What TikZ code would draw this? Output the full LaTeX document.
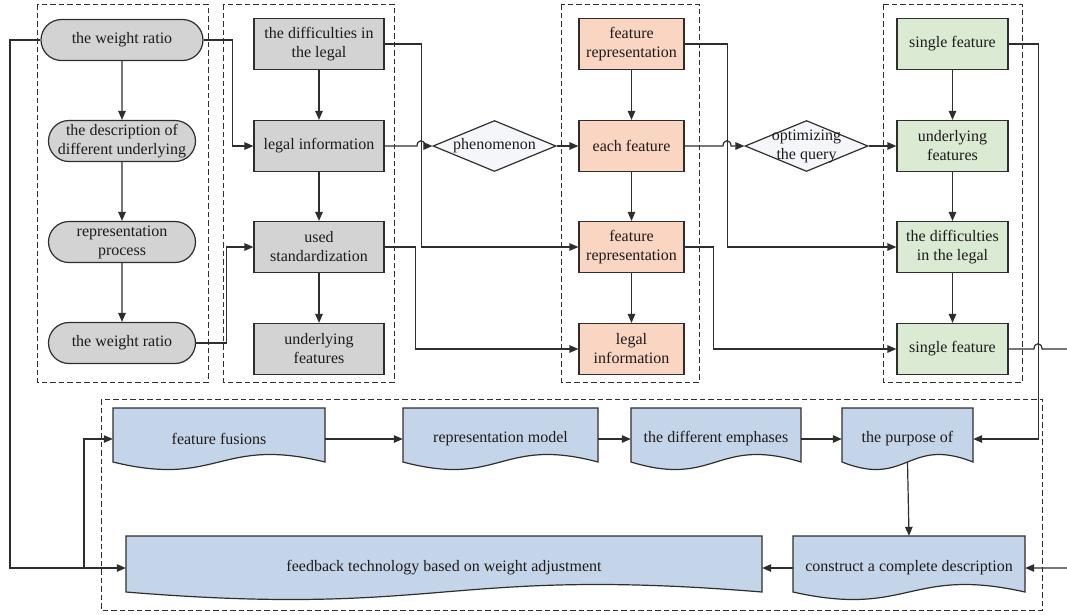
\documentclass[tikz,border=0pt]{standalone}
\usepackage{fontspec}
\setmainfont{Liberation Serif}
\usetikzlibrary{arrows.meta,shapes.misc,shapes.geometric,calc}
\definecolor{lc}{HTML}{2E2E2E}
\definecolor{txt}{HTML}{1E1B1C}
\definecolor{grayf}{HTML}{D3D3D3}
\definecolor{orf}{HTML}{FAD5C2}
\definecolor{grf}{HTML}{DAEAD3}
\definecolor{blf}{HTML}{C5D5E9}
\definecolor{dif}{HTML}{F4F6F9}
\tikzset{
  line/.style={draw=lc, line width=1.2pt},
  arr/.style={line, -{Triangle[length=9pt,width=7.5pt]}},
  dbox/.style={draw=lc, line width=1pt, dash pattern=on 5.5pt off 3pt},
  stad/.style={rounded rectangle, draw=lc, line width=1.2pt, fill=grayf, minimum width=149, minimum height=41, inner sep=1pt, align=center},
  rectbox/.style={rectangle, draw=lc, line width=1.2pt, minimum height=51, inner sep=1pt, align=center},
  gbox/.style={rectbox, fill=grayf, minimum width=130},
  obox/.style={rectbox, fill=orf, minimum width=105},
  grbox/.style={rectbox, fill=grf, minimum width=111},
  dia/.style={diamond, draw=lc, line width=1.2pt, fill=dif, minimum width=123, minimum height=51, inner sep=0pt},
  docstyle/.style={draw=lc, line width=1.2pt, fill=blf},
}
\newcommand{\docnode}[6]{%
  \filldraw[docstyle] (#2,#3) -- (#4,#3) -- (#4,#5) .. controls ({#4-0.5*(#4-#2)},{#5-26}) and ({#2+0.5*(#4-#2)},{#5+26}) .. (#2,#5) -- cycle;
  \node[inner sep=0pt, minimum width={#4-#2}, minimum height={#5+8-#3}, align=center] (#1) at ({(#2+#4)/2},{(#3+#5+8)/2}) {#6};
}
\begin{document}
\begin{tikzpicture}[x=1pt, y=-1pt, font=\fontsize{16}{19}\selectfont\color{txt}]
\useasboundingbox (0,0) rectangle (1067,614);

% dashed group boxes
\draw[dbox] (37,4) rectangle (208,382);
\draw[dbox] (223,4) rectangle (394,382);
\draw[dbox] (561,4) rectangle (699,382);
\draw[dbox] (883,4) rectangle (1022,382);
\draw[dbox] (101,399) rectangle (1042,610);

% column 1
\node[stad, minimum width=164] (n1) at (122,40) {the weight ratio};
\node[stad] (n2) at (122,141) {the description of\\different underlying};
\node[stad] (n3) at (122,242) {representation\\process};
\node[stad] (n4) at (122,343) {the weight ratio};

% column 2
\node[gbox] (g1) at (319,44) {the difficulties in\\the legal};
\node[gbox] (g2) at (319,146) {legal information};
\node[gbox] (g3) at (319,247) {used\\standardization};
\node[gbox] (g4) at (319,349) {underlying\\features};

% column 3
\node[obox] (f1) at (631.5,44) {feature\\representation};
\node[obox] (f2) at (631.5,146) {each feature};
\node[obox] (f3) at (631.5,247) {feature\\representation};
\node[obox] (f4) at (631.5,349) {legal\\information};

% column 4
\node[grbox] (r1) at (952.5,44) {single feature};
\node[grbox] (r2) at (952.5,146) {underlying\\features};
\node[grbox] (r3) at (952.5,247) {the difficulties\\in the legal};
\node[grbox] (r4) at (952.5,349) {single feature};

% diamonds
\node[dia] (ph) at (494.5,146) {};
\node at (ph) {phenomenon};
\node[dia] (oq) at (806.5,146) {};
\node[align=center] at (oq) {optimizing\\the query};

% document shapes
\docnode{d1}{113}{408}{325}{462}{feature fusions}
\docnode{d2}{403}{408}{598}{462}{representation model}
\docnode{d3}{631}{408}{801}{462}{the different emphases}
\docnode{d4}{842}{408}{973}{462}{the purpose of}
\docnode{d5}{126}{536}{762}{592}{feedback technology based on weight adjustment}
\docnode{d6}{793}{536}{1025}{592}{construct a complete description}

% vertical flows
\draw[arr] (n1) -- (n2);
\draw[arr] (n2) -- (n3);
\draw[arr] (n3) -- (n4);
\draw[arr] (g1) -- (g2);
\draw[arr] (g2) -- (g3);
\draw[arr] (g3) -- (g4);
\draw[arr] (f1) -- (f2);
\draw[arr] (f2) -- (f3);
\draw[arr] (f3) -- (f4);
\draw[arr] (r1) -- (r2);
\draw[arr] (r2) -- (r3);
\draw[arr] (r3) -- (r4);

% cross connections
\draw[arr] (n1.east) -- ++(29,0) |- (g2.west);
\draw[arr] (n4.east) -- ++(30,0) |- (g3.west);
\draw[arr] (g1.east) -- ++(37,0) |- (f3.west);
\draw[arr] (g3.east) -- ++(31,0) |- (f4.west);
\draw[arr] (g2.east) -- (417,146) .. controls (417,139) and (425,139) .. (425,146) -- (ph.west);
\draw[arr] (ph.east) -- (f2.west);
\draw[arr] (f1.east) -- ++(43,0) |- (r3.west);
\draw[arr] (f3.east) -- ++(29,0) |- (r4.west);
\draw[arr] (f2.east) -- (723,146) .. controls (723,139) and (731,139) .. (731,146) -- (oq.west);
\draw[arr] (oq.east) -- (r2.west);
\draw[arr] (r1.east) -- ++(30,0) |- (d4.east);
\draw[arr] (r4.east) -- (1034,349) .. controls (1034,342) and (1042,342) .. (1042,349) -- (1085,349) -- (1085,568) -- (d6.east);

% bottom flows
\draw[arr] (d1.east) -- (d2.west);
\draw[arr] (d2.east) -- (d3.west);
\draw[arr] (d3.east) -- (d4.west);
\draw[arr] ([yshift=8pt]d4.south) -- (d6.north);
\draw[arr] (d6.west) -- (d5.east);

% feedback
\draw[arr] (n1.west) -- (10,40) -- (10,568) -- (d5.west);
\coordinate (br) at (84,568);
\draw[arr] (br) |- (d1.west);
\end{tikzpicture}
\end{document}
